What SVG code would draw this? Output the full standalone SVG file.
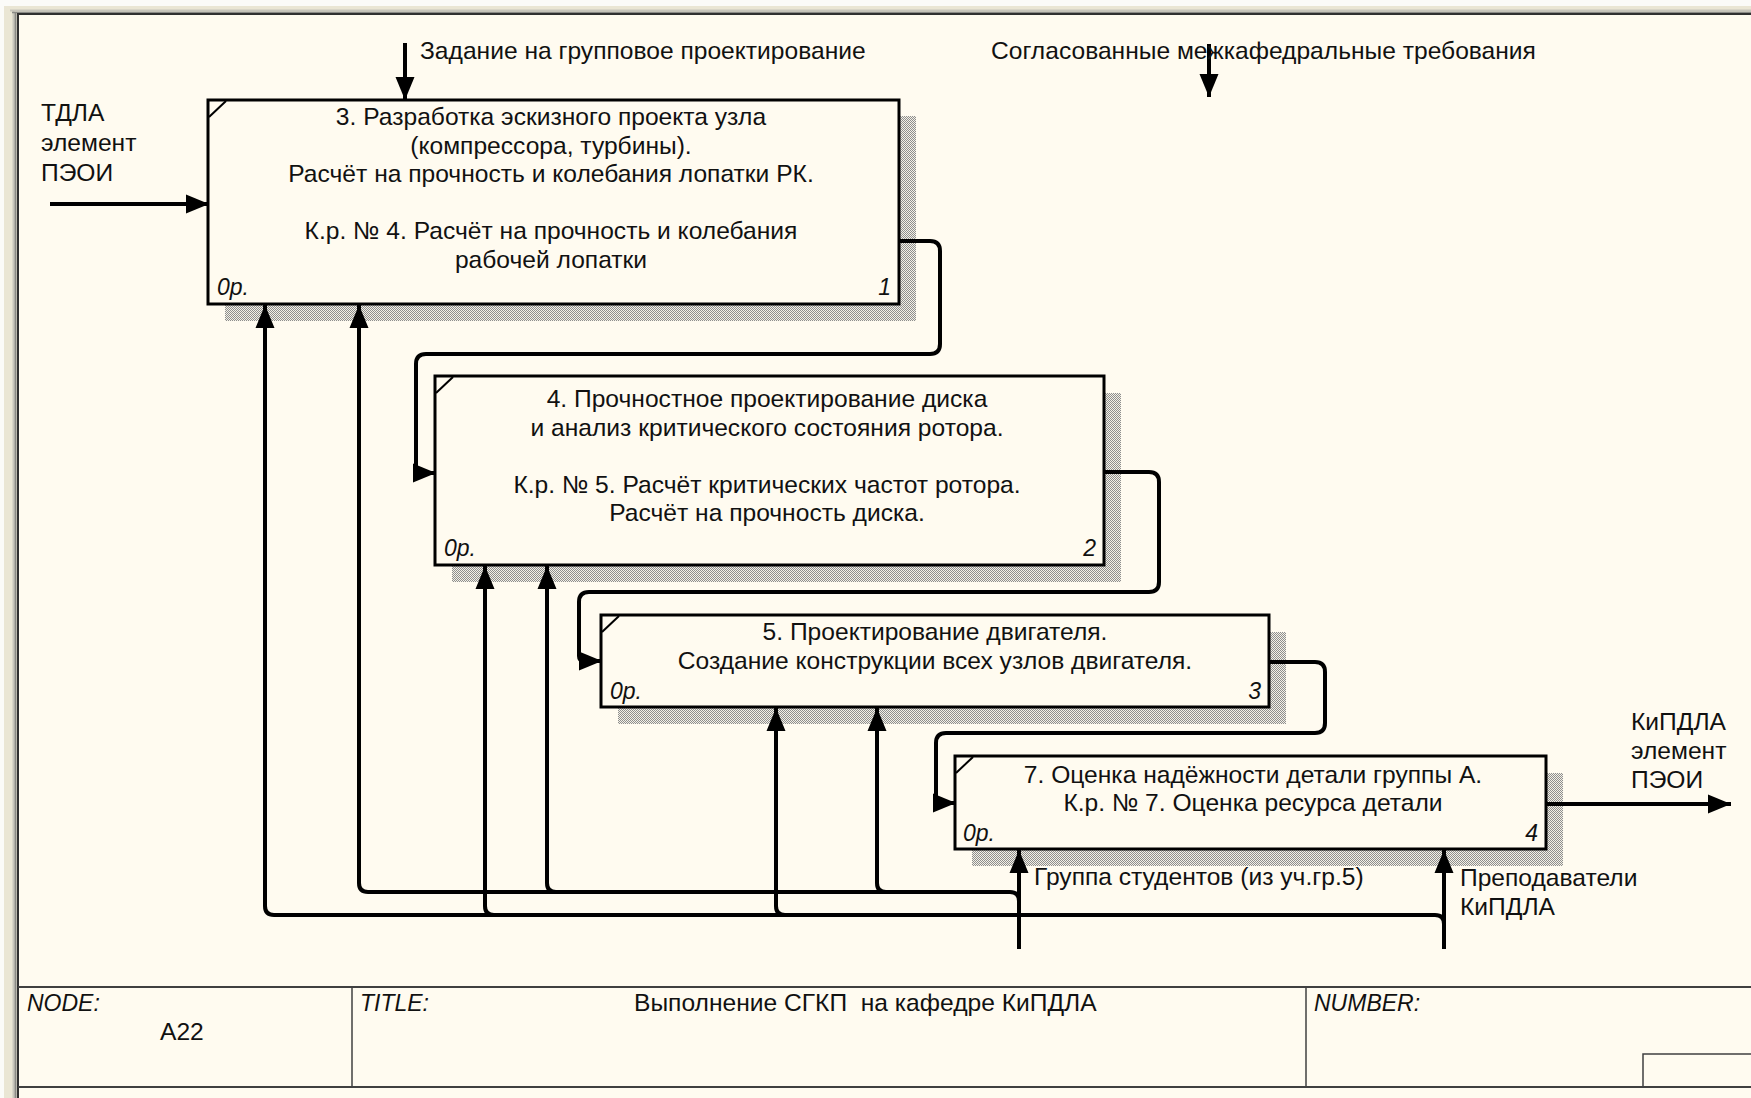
<svg xmlns="http://www.w3.org/2000/svg" width="1751" height="1098" viewBox="0 0 1751 1098">
  <style>
    text { font-family: "Liberation Sans", Arial, sans-serif; font-size: 24.6px; fill: #111; }
    .c { text-anchor: middle; }
    .it { font-style: italic; font-size: 23px; }
    .num { font-style: italic; font-size: 23px; text-anchor: end; }
    .box { fill: #FFFBF0; stroke: #000; stroke-width: 3; }
    .shadow { fill: url(#hatch); }
    .tick { stroke: #000; stroke-width: 2; fill: none; }
    .arrow { fill: none; stroke: #000; stroke-width: 4; stroke-linejoin: round; }
    .head { marker-end: url(#ah); }
    .frame { stroke: #404040; fill: none; }
  </style>
  <defs>
    <pattern id="hatch" width="2" height="2" patternUnits="userSpaceOnUse">
      <rect width="2" height="2" fill="#F4F1E6"/>
      <rect width="1" height="1" fill="#8E8E8E"/>
      <rect x="1" y="1" width="1" height="1" fill="#8E8E8E"/>
    </pattern>
    <marker id="ah" markerUnits="userSpaceOnUse" markerWidth="24" markerHeight="20" viewBox="0 0 24 20" refX="23" refY="10" orient="auto">
      <path d="M0,0.5 L23,10 L0,19.5 Z" fill="#000"/>
    </marker>
  </defs>

  <!-- window edge and sheet background -->
  <rect width="1751" height="1098" fill="#FBFBF8"/>
  <rect x="4" y="6" width="1747" height="1092" fill="#EAE6D4"/>
  <line x1="13.5" y1="10" x2="13.5" y2="1098" stroke="#C8C6BC" stroke-width="2"/>
  <line x1="10" y1="10.5" x2="1751" y2="10.5" stroke="#C8C6BC" stroke-width="2"/>
  <line x1="15.5" y1="12" x2="15.5" y2="1098" stroke="#8A8A86" stroke-width="2"/>
  <line x1="12" y1="12.5" x2="1751" y2="12.5" stroke="#8A8A86" stroke-width="1.5"/>
  <rect x="17" y="13" width="1734" height="1085" fill="#FFFBF0"/>
  <line x1="18" y1="13" x2="18" y2="1098" stroke="#303030" stroke-width="2"/>
  <line x1="17" y1="14" x2="1751" y2="14" stroke="#303030" stroke-width="2"/>

  <!-- activity boxes -->
  <g id="box1">
    <rect class="shadow" x="225" y="116" width="691" height="205"/>
    <rect class="box" x="208" y="100" width="691" height="204"/>
    <path class="tick" d="M209,117 L226,101"/>
    <text class="c" x="551" y="125">3. Разработка эскизного проекта узла</text>
    <text class="c" x="551" y="153.5">(компрессора, турбины).</text>
    <text class="c" x="551" y="182">Расчёт на прочность и колебания лопатки РК.</text>
    <text class="c" x="551" y="239">К.р. № 4. Расчёт на прочность и колебания</text>
    <text class="c" x="551" y="267.5">рабочей лопатки</text>
    <text class="it" x="217" y="295">0р.</text>
    <text class="num" x="891" y="295">1</text>
  </g>

  <g id="box2">
    <rect class="shadow" x="452" y="393" width="669" height="189"/>
    <rect class="box" x="435" y="376" width="669" height="189"/>
    <path class="tick" d="M436,393 L453,377"/>
    <text class="c" x="767" y="407">4. Прочностное проектирование диска</text>
    <text class="c" x="767" y="435.5">и анализ критического состояния ротора.</text>
    <text class="c" x="767" y="492.5">К.р. № 5. Расчёт критических частот ротора.</text>
    <text class="c" x="767" y="521">Расчёт на прочность диска.</text>
    <text class="it" x="444" y="556">0р.</text>
    <text class="num" x="1096" y="556">2</text>
  </g>

  <g id="box3">
    <rect class="shadow" x="618" y="632" width="668" height="92"/>
    <rect class="box" x="601" y="615" width="668" height="92"/>
    <path class="tick" d="M602,632 L619,616"/>
    <text class="c" x="935" y="640">5. Проектирование двигателя.</text>
    <text class="c" x="935" y="668.5">Создание конструкции всех узлов двигателя.</text>
    <text class="it" x="610" y="699">0р.</text>
    <text class="num" x="1261" y="699">3</text>
  </g>

  <g id="box4">
    <rect class="shadow" x="972" y="773" width="591" height="93"/>
    <rect class="box" x="955" y="756" width="591" height="93"/>
    <path class="tick" d="M956,773 L973,757"/>
    <text class="c" x="1253" y="782.5">7. Оценка надёжности детали группы А.</text>
    <text class="c" x="1253" y="811">К.р. № 7. Оценка ресурса детали</text>
    <text class="it" x="963" y="841">0р.</text>
    <text class="num" x="1538" y="841">4</text>
  </g>

  <!-- connectors: inputs, controls, outputs, mechanisms -->
  <g id="connectors">
    <path class="arrow head" d="M405,43 V100"/>
    <path class="arrow head" d="M1209,44 V97"/>
    <path class="arrow head" d="M50,204 H209"/>

    <path class="arrow head" d="M899,241 H930 Q940,241 940,251 V344 Q940,354 930,354 H426 Q416,354 416,364 V468 Q416,473 421,473 H436"/>
    <path class="arrow head" d="M1104,472 H1149 Q1159,472 1159,482 V582 Q1159,592 1149,592 H589 Q579,592 579,602 V656 Q579,661 584,661 H602"/>
    <path class="arrow head" d="M1269,662 H1315 Q1325,662 1325,672 V723 Q1325,733 1315,733 H946 Q936,733 936,743 V798 Q936,803 941,803 H956"/>
    <path class="arrow head" d="M1546,804 H1731"/>

    <!-- students -->
    <path class="arrow head" d="M1019,949 V850"/>
    <path class="arrow head" d="M1019,901 Q1019,892 1010,892 H368 Q359,892 359,883 V305"/>
    <path class="arrow head" d="M556,892 Q547,892 547,883 V566"/>
    <path class="arrow head" d="M886,892 Q877,892 877,883 V708"/>

    <!-- teachers -->
    <path class="arrow head" d="M1444,949 V850"/>
    <path class="arrow head" d="M1444,924 Q1444,915 1435,915 H274 Q265,915 265,906 V305"/>
    <path class="arrow head" d="M494,915 Q485,915 485,906 V566"/>
    <path class="arrow head" d="M785,915 Q776,915 776,906 V708"/>
  </g>

  <!-- connector labels -->
  <g id="labels">
    <text x="420" y="59">Задание на групповое проектирование</text>
    <text x="991" y="58.5">Согласованные межкафедральные требования</text>
    <text x="41" y="121">ТДЛА</text>
    <text x="41" y="151">элемент</text>
    <text x="41" y="181">ПЭОИ</text>
    <text x="1631" y="730">КиПДЛА</text>
    <text x="1631" y="759">элемент</text>
    <text x="1631" y="788">ПЭОИ</text>
    <text x="1034" y="885">Группа студентов (из уч.гр.5)</text>
    <text x="1460" y="886">Преподаватели</text>
    <text x="1460" y="915">КиПДЛА</text>
  </g>

  <!-- title block -->
  <g id="title-block">
    <line class="frame" x1="18" y1="987" x2="1751" y2="987" stroke-width="2"/>
    <line class="frame" x1="18" y1="1087" x2="1751" y2="1087" stroke-width="2"/>
    <line class="frame" x1="352" y1="987" x2="352" y2="1087" stroke-width="1.5"/>
    <line class="frame" x1="1306" y1="987" x2="1306" y2="1087" stroke-width="1.5"/>
    <path class="frame" d="M1643,1087 V1054 H1751" stroke-width="1.5"/>
    <text class="it" x="27" y="1011">NODE:</text>
    <text x="160" y="1040">A22</text>
    <text class="it" x="360" y="1011">TITLE:</text>
    <text x="634" y="1011" xml:space="preserve">Выполнение СГКП  на кафедре КиПДЛА</text>
    <text class="it" x="1314" y="1011">NUMBER:</text>
  </g>
</svg>
